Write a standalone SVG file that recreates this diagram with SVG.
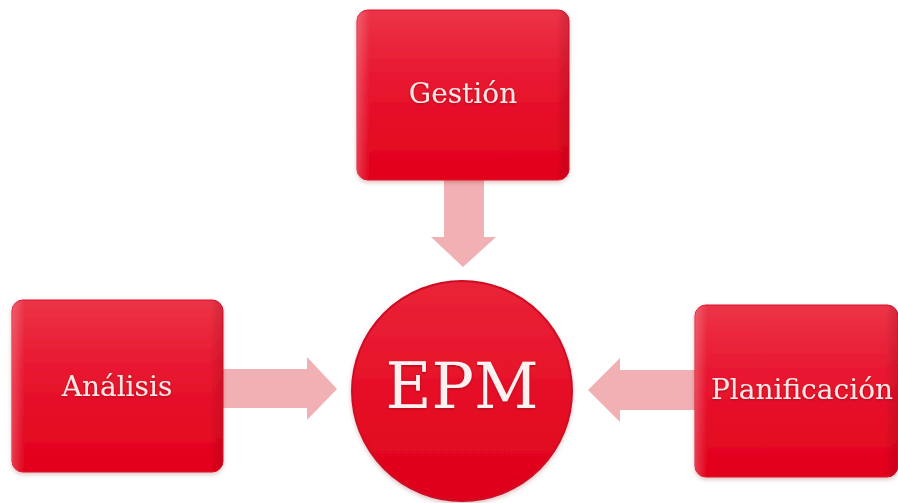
<svg xmlns="http://www.w3.org/2000/svg" width="898" height="503" viewBox="0 0 898 503">
  <defs>
    <linearGradient id="boxGrad" x1="0" y1="0" x2="0" y2="1">
      <stop offset="0" stop-color="#ec3447"/>
      <stop offset="0.4" stop-color="#e81730"/>
      <stop offset="1" stop-color="#e2001b"/>
    </linearGradient>
    <linearGradient id="edgeGrad" x1="0" y1="0" x2="1" y2="0">
      <stop offset="0" stop-color="#ffffff" stop-opacity="0.22"/>
      <stop offset="0.06" stop-color="#ffffff" stop-opacity="0"/>
      <stop offset="0.94" stop-color="#000000" stop-opacity="0"/>
      <stop offset="1" stop-color="#7a0010" stop-opacity="0.18"/>
    </linearGradient>
    <linearGradient id="circGrad" x1="0" y1="0" x2="0" y2="1">
      <stop offset="0" stop-color="#ea2438"/>
      <stop offset="0.5" stop-color="#e60f27"/>
      <stop offset="1" stop-color="#de001a"/>
    </linearGradient>
    <filter id="shadow" x="-10%" y="-10%" width="120%" height="125%">
      <feDropShadow dx="0" dy="2" stdDeviation="2" flood-color="#800010" flood-opacity="0.25"/>
    </filter>
    <filter id="tshadow" x="-10%" y="-20%" width="120%" height="140%">
      <feDropShadow dx="0" dy="1" stdDeviation="0.8" flood-color="#6a0010" flood-opacity="0.5"/>
    </filter>
  </defs>
  <style>
    .box { fill: url(#boxGrad); stroke: #d8102a; stroke-width: 1; }
    .edge { fill: url(#edgeGrad); }
    .circ { fill: url(#circGrad); stroke: #cc0f26; stroke-width: 2; }
    .lbl { font-family: "DejaVu Serif", "Liberation Serif", serif; font-size: 28px; fill: #fce6e6; text-anchor: middle; }
    .big { font-family: "DejaVu Serif", "Liberation Serif", serif; font-size: 63px; fill: #fdf0f0; text-anchor: middle; }
    .arrow { fill: #f1b0b4; }
  </style>
  <rect width="898" height="503" fill="#ffffff"/>

  <g id="connectors">
    <polygon class="arrow" points="444,180 484,180 484,237 496,237 463,267 431,237 444,237"/>
    <polygon class="arrow" points="223,369 307,369 307,357 337,389 307,420 307,408 223,408"/>
    <polygon class="arrow" points="695,370 620,370 620,358 588,390 620,422 620,410 695,410"/>
  </g>

  <g id="gestion" filter="url(#shadow)">
    <rect class="box" x="357" y="10" width="212" height="170" rx="11"/>
    <rect class="edge" x="357" y="10" width="212" height="170" rx="11"/>
    <text class="lbl" x="463" y="103" filter="url(#tshadow)">Gestión</text>
  </g>

  <g id="analisis" filter="url(#shadow)">
    <rect class="box" x="12" y="300" width="211" height="172" rx="11"/>
    <rect class="edge" x="12" y="300" width="211" height="172" rx="11"/>
    <text class="lbl" x="117" y="396" filter="url(#tshadow)">Análisis</text>
  </g>

  <g id="planificacion" filter="url(#shadow)">
    <rect class="box" x="695" y="305" width="203" height="172" rx="11"/>
    <rect class="edge" x="695" y="305" width="203" height="172" rx="11"/>
    <text class="lbl" x="802" y="399" filter="url(#tshadow)">Planificación</text>
  </g>

  <g id="epm" filter="url(#shadow)">
    <circle class="circ" cx="462" cy="391" r="110"/>
    <text class="big" x="462" y="408" filter="url(#tshadow)">EPM</text>
  </g>
</svg>
